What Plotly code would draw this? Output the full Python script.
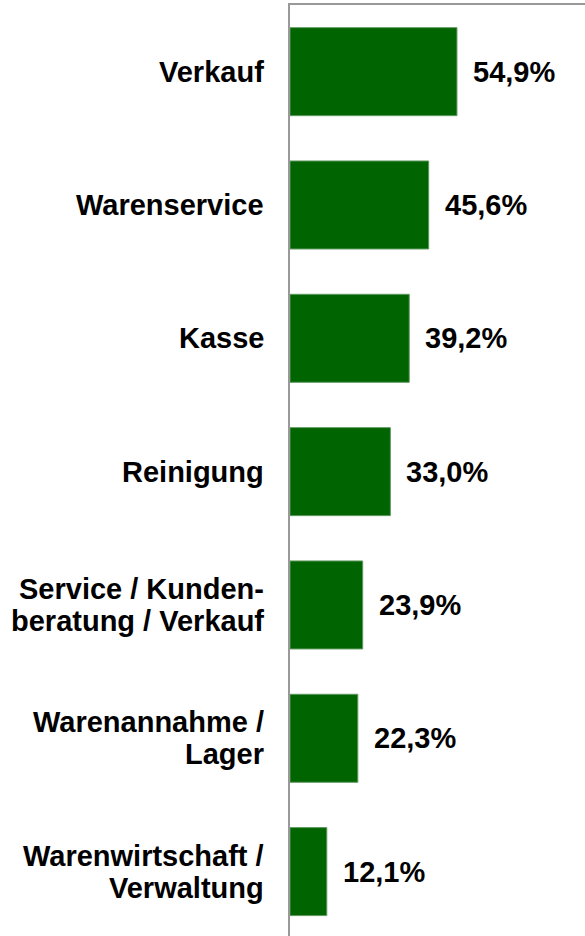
import plotly.graph_objects as go

# Data
categories = [
    "Verkauf",
    "Warenservice",
    "Kasse",
    "Reinigung",
    "Service / Kunden-<br>beratung / Verkauf",
    "Warenannahme /<br>Lager",
    "Warenwirtschaft /<br>Verwaltung",
]
values = [54.9, 45.6, 39.2, 33.0, 23.9, 22.3, 12.1]
value_labels = ["54,9%", "45,6%", "39,2%", "33,0%", "23,9%", "22,3%", "12,1%"]

FONT = "Arial, Liberation Sans, sans-serif"
GREEN = "#006400"
AXIS_GREY = "#999999"
LINE_GAP = 32  # px between lines of a two-line category label

positions = list(range(len(categories)))

fig = go.Figure()
fig.add_trace(go.Bar(
    x=values, y=positions,
    orientation="h",
    width=0.66,
    marker=dict(color=GREEN, line=dict(color="#5f995f", width=1)),
    hoverinfo="skip",
))

label_font = dict(family=FONT, size=29, color="black", weight="bold")

# category labels left of the axis, drawn line by line for tighter spacing
for cat, p in zip(categories, positions):
    lines = cat.split("<br>")
    n = len(lines)
    for i, line in enumerate(lines):
        fig.add_annotation(
            x=0, y=p, text=line,
            xanchor="right", yanchor="middle",
            xshift=-24, yshift=((n - 1) / 2 - i) * LINE_GAP,
            showarrow=False, font=label_font,
        )

# value labels to the right of each bar
for v, lab, p in zip(values, value_labels, positions):
    fig.add_annotation(
        x=v, y=p, text=lab,
        xanchor="left", yanchor="middle",
        xshift=14, showarrow=False,
        font=label_font,
    )

fig.update_layout(
    width=585, height=936,
    margin={"l": 290, "r": 0, "t": 5, "b": 0},
    plot_bgcolor="white", paper_bgcolor="white",
    showlegend=False,
    xaxis=dict(
        range=[0, 97], side="top",
        showgrid=False, zeroline=False,
        showticklabels=False, ticks="",
        showline=True, linecolor=AXIS_GREY, linewidth=2,
    ),
    yaxis=dict(
        range=[6.483, -0.5],
        showgrid=False, zeroline=False, ticks="",
        showticklabels=False,
        showline=True, linecolor=AXIS_GREY, linewidth=2,
    ),
)

fig.write_html(
    "out.html",
    config={"displayModeBar": False},
    post_script="document.body.style.margin = '0px';",
)
